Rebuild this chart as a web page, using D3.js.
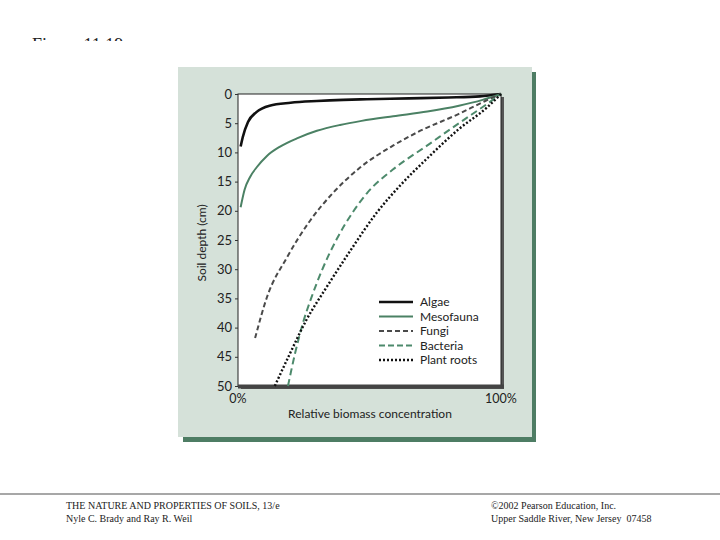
<!DOCTYPE html>
<html>
<head>
<meta charset="utf-8">
<script src="https://cdn.jsdelivr.net/npm/d3@7"></script>
<style>
  html, body { margin: 0; padding: 0; background: #fff; }
  svg { display: block; }
</style>
</head>
<body>
<svg id="chart" width="720" height="540"></svg>
<script>
(function () {
    'use strict';

    // depth ticks (cm)
    var depthTicks = [0, 5, 10, 15, 20, 25, 30, 35, 40, 45, 50];

    // each point: [relative biomass %, soil depth cm]
    var algae = [[1, 9.0], [1.8, 7.4], [3.8, 4.8], [7, 3.1], [12, 2.0], [20, 1.5],
        [30, 1.2], [40, 1.0], [49, 0.9], [65, 0.75], [80, 0.6], [92, 0.4], [100, 0]];
    var mesofauna = [[1, 19.4], [2.5, 16.4], [4.6, 14.2], [7.2, 12.5], [11, 10.6],
        [16, 9.0], [22.4, 7.6], [30, 6.3], [38.8, 5.3], [47, 4.6], [59, 3.8],
        [72, 3.0], [84, 2.0], [93, 1.0], [100, 0]];
    var fungi = [[6.5, 41.8], [11, 34.8], [18.6, 28.0], [27.4, 21.7], [36, 17.0],
        [46.4, 12.6], [58.9, 8.85], [68, 6.6], [84, 3.4], [94, 1.2], [100, 0]];
    var bacteria = [[19, 50], [21.7, 44.4], [24.7, 39.2], [27.8, 35.0], [32, 30.1],
        [37.6, 24.8], [43.7, 20.2], [49, 17.0], [59, 12.9], [72, 8.8], [84, 5.0],
        [94.7, 1.7], [100, 0]];
    var plantRoots = [[14, 50], [19.8, 44.4], [26, 38.7], [33.8, 33], [42.6, 26.9],
        [52.8, 20.3], [62, 15.5], [72, 11.0], [84, 6.0], [94.7, 2.3], [100, 0]];

    var seriesNames = ['Algae', 'Mesofauna', 'Fungi', 'Bacteria', 'Plant roots'];
    var seriesData = [algae, mesofauna, fungi, bacteria, plantRoots];
    var seriesStyle = [
        { color: '#111', width: 2.6, dash: null },
        { color: '#4b8164', width: 2, dash: null },
        { color: '#4a4a4a', width: 2, dash: '5,3' },
        { color: '#4d8a6c', width: 2, dash: '7,4' },
        { color: '#111', width: 2.4, dash: '2,2' }
    ];

    var svg = d3.select('#chart');
    var font = 'Lato, "Open Sans", sans-serif';

    // figure title, cropped at its top like the source scan
    svg.append('clipPath').attr('id', 'title-clip')
        .append('rect').attr('x', 0).attr('y', 0).attr('width', 720).attr('height', 41);
    svg.append('text')
        .attr('clip-path', 'url(#title-clip)')
        .attr('x', 32).attr('y', 51)
        .attr('font-family', '"Liberation Serif", serif')
        .attr('font-size', 18)
        .attr('fill', '#222')
        .text('Figure 11.19');

    // panel with green drop shadow
    svg.append('rect').attr('x', 183).attr('y', 72).attr('width', 353).attr('height', 370)
        .attr('fill', '#4e7d64');
    svg.append('rect').attr('x', 178).attr('y', 67).attr('width', 354).attr('height', 370)
        .attr('fill', '#d5e1d9');

    var x = d3.scaleLinear().domain([0, 100]).range([238, 501]);
    var y = d3.scaleLinear().domain([0, 50]).range([94, 386]);

    // plot box
    svg.append('rect')
        .attr('x', x(0) + 3).attr('y', y(0) + 3)
        .attr('width', x(100) - x(0)).attr('height', y(50) - y(0))
        .attr('fill', '#555');
    svg.append('rect')
        .attr('x', x(0)).attr('y', y(0))
        .attr('width', x(100) - x(0)).attr('height', y(50) - y(0))
        .attr('fill', '#fff')
        .attr('stroke', '#222').attr('stroke-width', 1);
    svg.append('line')
        .attr('x1', x(0)).attr('x2', x(100) + 3)
        .attr('y1', y(50) + 0.5).attr('y2', y(50) + 0.5)
        .attr('stroke', '#444').attr('stroke-width', 4);

    // depth axis
    var yAxis = svg.append('g')
        .attr('transform', 'translate(' + x(0) + ',0)')
        .call(d3.axisLeft(y).tickValues(depthTicks).tickSize(3).tickPadding(3));
    yAxis.select('.domain').remove();
    yAxis.selectAll('.tick line').attr('stroke', '#333');
    yAxis.selectAll('.tick text')
        .attr('font-family', font).attr('font-size', 13).attr('fill', '#222');

    // x end labels
    svg.append('text').attr('x', x(0)).attr('y', 403)
        .attr('text-anchor', 'middle')
        .attr('font-family', font).attr('font-size', 12.5).attr('fill', '#222')
        .text('0%');
    svg.append('text').attr('x', x(100)).attr('y', 403)
        .attr('text-anchor', 'middle')
        .attr('font-family', font).attr('font-size', 12.5).attr('fill', '#222')
        .text('100%');

    svg.append('text').attr('x', 370).attr('y', 418)
        .attr('text-anchor', 'middle')
        .attr('font-family', font).attr('font-size', 12).attr('fill', '#222')
        .text('Relative biomass concentration');
    svg.append('text')
        .attr('transform', 'translate(206,' + y(25.5) + ') rotate(-90)')
        .attr('text-anchor', 'middle')
        .attr('font-family', font).attr('font-size', 12).attr('fill', '#222')
        .text('Soil depth (cm)');

    // curves
    var line = d3.line()
        .x(function (d) { return x(d[0]); })
        .y(function (d) { return y(d[1]); })
        .curve(d3.curveMonotoneX);

    svg.append('g').selectAll('path')
        .data(seriesData)
        .join('path')
        .attr('d', line)
        .attr('fill', 'none')
        .attr('stroke', function (d, i) { return seriesStyle[i].color; })
        .attr('stroke-width', function (d, i) { return seriesStyle[i].width; })
        .attr('stroke-dasharray', function (d, i) { return seriesStyle[i].dash; });

    // legend
    var legend = svg.append('g').attr('transform', 'translate(379,302)');
    var rows = legend.selectAll('g')
        .data(seriesNames)
        .join('g')
        .attr('transform', function (d, i) { return 'translate(0,' + (i * 14.5) + ')'; });
    rows.append('line')
        .attr('x1', 0).attr('x2', 34).attr('y1', 0).attr('y2', 0)
        .attr('stroke', function (d, i) { return seriesStyle[i].color; })
        .attr('stroke-width', function (d, i) { return seriesStyle[i].width; })
        .attr('stroke-dasharray', function (d, i) { return i === 3 ? '6,3' : seriesStyle[i].dash; });
    rows.append('text')
        .attr('x', 41).attr('y', 4)
        .attr('font-family', font).attr('font-size', 12).attr('fill', '#222')
        .text(function (d) { return d; });

    // footer
    svg.append('line').attr('x1', 0).attr('x2', 720).attr('y1', 494).attr('y2', 494)
        .attr('stroke', '#8a8a8a').attr('stroke-width', 1.5);
    var footer = [
        ['THE NATURE AND PROPERTIES OF SOILS, 13/e', 66, 509],
        ['Nyle C. Brady and Ray R. Weil', 66, 522],
        ['\u00a92002 Pearson Education, Inc.', 491, 509],
        ['Upper Saddle River, New Jersey  07458', 491, 522]
    ];
    svg.append('g').selectAll('text')
        .data(footer)
        .join('text')
        .attr('x', function (d) { return d[1]; })
        .attr('y', function (d) { return d[2]; })
        .attr('font-family', '"Liberation Serif", serif')
        .attr('font-size', 10)
        .attr('fill', '#222')
        .attr('xml:space', 'preserve')
        .text(function (d) { return d[0]; });
})();
</script>
</body>
</html>
